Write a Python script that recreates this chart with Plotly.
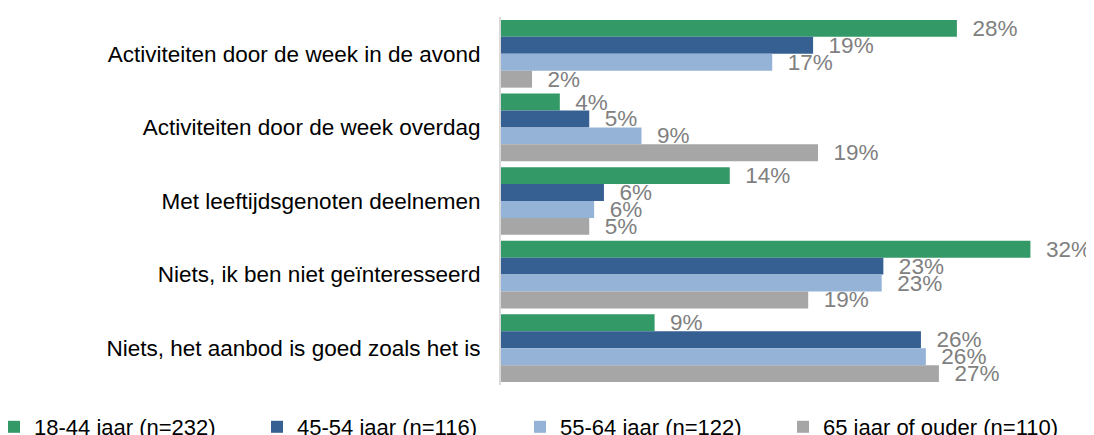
import plotly.graph_objects as go

categories = [
    "Activiteiten door de week in de avond",
    "Activiteiten door de week overdag",
    "Met leeftijdsgenoten deelnemen",
    "Niets, ik ben niet geïnteresseerd",
    "Niets, het aanbod is goed zoals het is",
]
series_names = [
    "18-44 jaar (n=232)",
    "45-54 jaar (n=116)",
    "55-64 jaar (n=122)",
    "65 jaar of ouder (n=110)",
]
vals_18_44 = [27.9, 3.6, 14.0, 32.4, 9.4]
vals_45_54 = [19.1, 5.4, 6.3, 23.4, 25.7]
vals_55_64 = [16.6, 8.6, 5.7, 23.3, 26.0]
vals_65plus = [1.9, 19.4, 5.4, 18.8, 26.8]
colors = ["#339966", "#366092", "#95B3D7", "#A6A6A6"]

series_vals = [vals_18_44, vals_45_54, vals_55_64, vals_65plus]

FONT = "Liberation Sans, Arial, sans-serif"
FS = 22.5
LFS = 22

fig = go.Figure()
for i, (name, vals, col) in enumerate(zip(series_names, series_vals, colors)):
    fig.add_trace(go.Bar(
        y=categories,
        x=vals,
        name=name,
        orientation="h",
        marker=dict(color=col, line=dict(width=0)),
        text=[f"\u00a0\u00a0{round(v)}%" for v in vals],
        textposition="outside",
        textfont=dict(family=FONT, size=FS, color="#808080"),
        constraintext="none",
        cliponaxis=False,
        hoverinfo="skip",
    ))
# widen only the last legend entry so its longer label is not clipped
fig.data[-1].legendwidth = 245

# page body has an 8px default margin, so the figure is offset by (8, 8)
W, H = 1086, 427
ml, mr, mt, mb = 493, 0, 9, 50
pw = W - ml - mr
ph = H - mt - mb
PX_PER_PCT = 16.34

fig.update_layout(
    width=W, height=H,
    margin=dict(l=ml, r=mr, t=mt, b=mb, autoexpand=False),
    barmode="group",
    bargap=0.08,
    bargroupgap=0,
    plot_bgcolor="white",
    paper_bgcolor="white",
    font=dict(family=FONT, size=FS, color="#000000"),
    showlegend=True,
    legend=dict(
        orientation="h",
        x=(-14 - ml) / pw,
        xanchor="left",
        y=(ph - (419 - mt)) / ph,
        yanchor="middle",
        entrywidth=218,
        entrywidthmode="pixels",
        font=dict(family=FONT, size=LFS, color="#000000"),
        itemwidth=30,
        bgcolor="rgba(0,0,0,0)",
    ),
)
fig.update_xaxes(
    range=[0, pw / PX_PER_PCT],
    showgrid=False, zeroline=False, showticklabels=False, showline=False,
)
fig.update_yaxes(
    autorange="reversed",
    automargin=False,
    showline=True, linecolor="#D9D9D9", linewidth=2,
    showgrid=False, zeroline=False,
    ticks="", ticklabelstandoff=14,
    tickfont=dict(family=FONT, size=FS, color="#000000"),
)

fig.write_html("out.html")
